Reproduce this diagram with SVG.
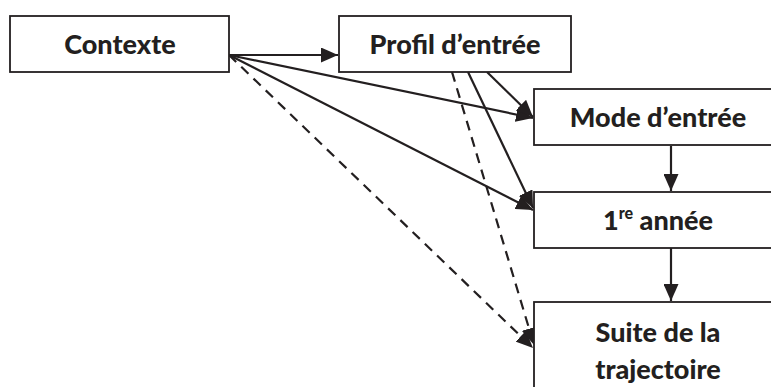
<svg xmlns="http://www.w3.org/2000/svg" width="771" height="387" viewBox="0 0 771 387">
<defs>
<style>
.box{fill:#fff;stroke:#231f20;stroke-width:1.8}
.t{font-family:Lato,"Liberation Sans",sans-serif;font-weight:900;font-size:27px;fill:#231f20;text-anchor:middle}
.c{stroke:#231f20;stroke-width:2.2;fill:none}
.d{stroke:#231f20;stroke-width:2.2;fill:none;stroke-dasharray:10,7}
</style>
<marker id="ah" markerUnits="userSpaceOnUse" markerWidth="17" markerHeight="15" refX="17" refY="7.5" orient="auto" viewBox="0 0 17 15">
<path d="M0,0 L17,7.5 L0,15 z" fill="#231f20"/>
</marker>
</defs>
<rect width="771" height="387" fill="#fff"/>
<g id="connectors">
<line class="c" x1="229" y1="55" x2="338" y2="55" marker-end="url(#ah)"/>
<line class="c" x1="229" y1="55" x2="533" y2="118" marker-end="url(#ah)"/>
<line class="c" x1="487" y1="72" x2="533" y2="117" marker-end="url(#ah)"/>
<line class="c" x1="229" y1="55" x2="533" y2="210" marker-end="url(#ah)"/>
<line class="c" x1="468" y1="72" x2="533" y2="208" marker-end="url(#ah)"/>
<line class="d" x1="229" y1="55" x2="533" y2="348" marker-end="url(#ah)"/>
<line class="d" x1="452" y1="72" x2="534" y2="345" marker-end="url(#ah)"/>
<line class="c" x1="671" y1="146" x2="671" y2="191" marker-end="url(#ah)"/>
<line class="c" x1="671" y1="248" x2="671" y2="301" marker-end="url(#ah)"/>
</g>
<g id="contexte">
<rect class="box" x="10" y="16" width="219" height="56"/>
<text class="t" x="120" y="54">Contexte</text>
</g>
<g id="profil">
<rect class="box" x="339" y="16" width="232" height="56"/>
<text class="t" x="455" y="54">Profil d’entrée</text>
</g>
<g id="mode">
<rect class="box" x="534" y="89" width="250" height="56"/>
<text class="t" x="658" y="127">Mode d’entrée</text>
</g>
<g id="annee">
<rect class="box" x="534" y="192" width="250" height="56"/>
<text class="t" x="658" y="230">1<tspan font-size="16" dy="-11">re</tspan><tspan dy="11"> année</tspan></text>
</g>
<g id="suite">
<rect class="box" x="534" y="302" width="250" height="100"/>
<text class="t" x="658" y="342">Suite de la</text>
<text class="t" x="658" y="379">trajectoire</text>
</g>
</svg>
